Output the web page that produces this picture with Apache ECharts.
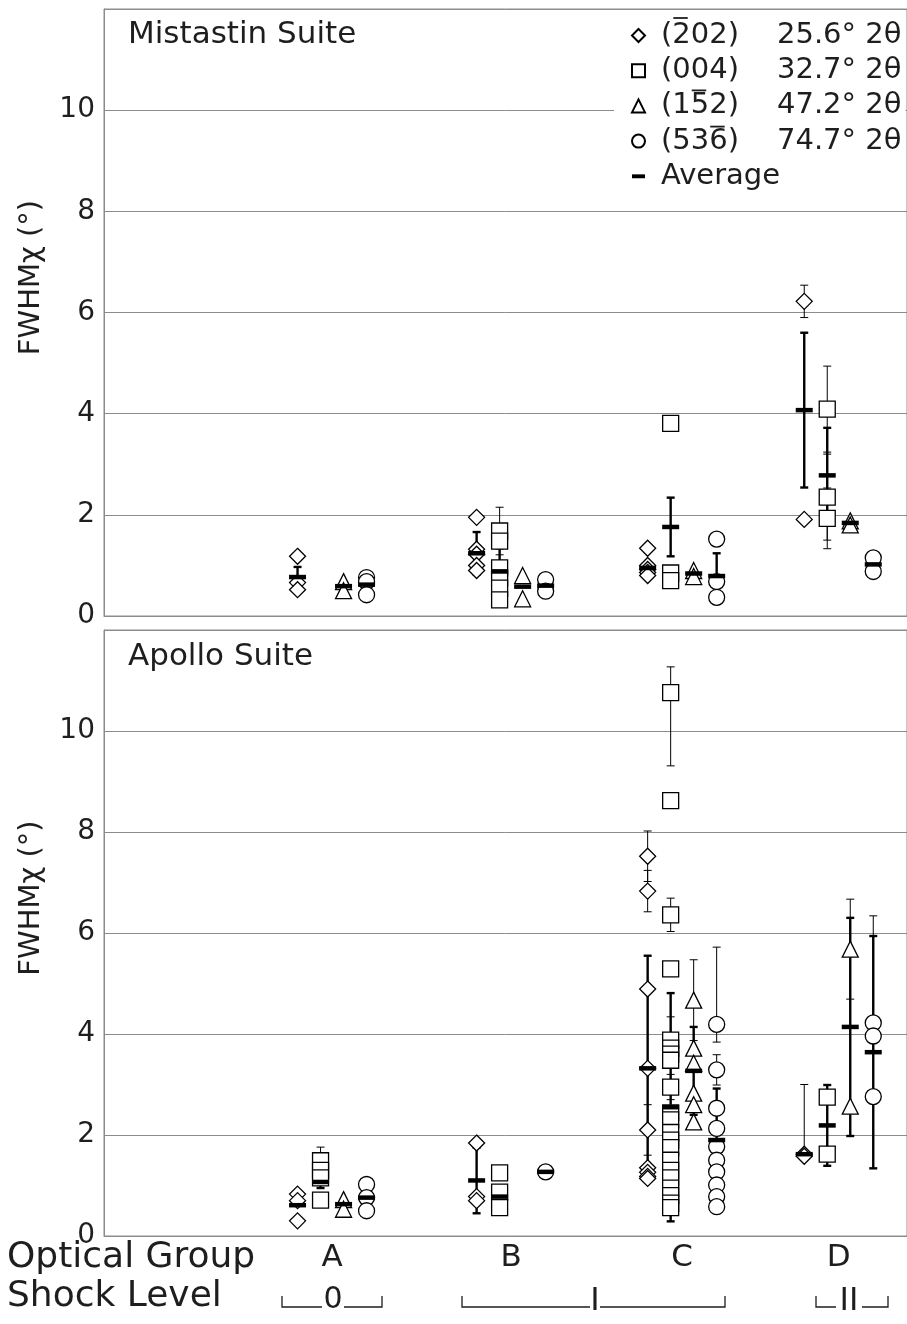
<!DOCTYPE html>
<html>
<head>
<meta charset="utf-8">
<script src="https://cdn.jsdelivr.net/npm/echarts@6/dist/echarts.min.js"></script>
<style>
html, body { margin: 0; padding: 0; background: #fff; }
#chart { width: 907px; height: 1324px; }
</style>
</head>
<body>
<div id="chart"></div>
<script>
// optical groups, and where each sits on the hidden x value axis
const groups = ['A', 'B', 'C', 'D'];
const groupX = [2.84, 5.07, 7.2, 9.15];

// reflections (hkl), which digit carries a bar (-1 = none), and their 2-theta
const reflections = ['(202)', '(004)', '(152)', '(536)'];
const barDigit = [1, -1, 2, 3];
const twoTheta = ['25.6° 2θ', '32.7° 2θ', '47.2° 2θ', '74.7° 2θ'];

// points: [group, FWHM, err down, err up]
// Mistastin suite
const mis202 = [[0,1.18],[0,0.66],[0,0.52],[1,1.95],[1,1.32],[1,1.22],[1,1.0],[1,0.9],
  [2,1.34],[2,1.0],[2,0.92],[2,0.86],[2,0.8],[3,6.22,0.32,0.32],[3,1.91]];
const mis004 = [[1,1.68,0.47,0.47],[1,1.48],[1,0.95],[1,0.75],[1,0.55],[1,0.32],
  [2,3.81],[2,0.85],[2,0.7],[3,4.09,0.85,0.85],[3,2.35,0.85,0.85],[3,1.93,0.6,0.6]];
const mis152 = [[0,0.68],[0,0.5],[1,0.8],[1,0.34],[2,0.9],[2,0.78],[3,1.88],[3,1.8]];
const mis536 = [[0,0.76],[0,0.68],[0,0.42],[1,0.72],[1,0.49],[2,1.52],[2,0.68],[2,0.37],[3,1.15],[3,0.88]];
// averages: [group, mean, err]
const misAvg202 = [[0,0.77,0.2],[1,1.24,0.42],[2,0.95,0],[3,4.07,1.53]];
const misAvg004 = [[1,0.88,0.46],[2,1.76,0.58],[3,2.78,0.94]];
const misAvg152 = [[0,0.59,0],[1,0.58,0],[2,0.84,0],[3,1.84,0]];
const misAvg536 = [[0,0.62,0],[1,0.6,0],[2,0.79,0.45],[3,1.02,0]];

// Apollo suite
const apo202 = [[0,0.83],[0,0.7],[0,0.3],[1,1.84],[1,0.78],[1,0.7],
  [2,7.52,0.5,0.5],[2,6.83,0.41,0.41],[2,4.89],[2,3.32],[2,2.1,0.5,0.5],[2,1.35],[2,1.26],[2,1.18],[2,1.14],
  [3,1.62,0,1.38],[3,1.58]];
const apo004 = [[0,1.49,0.27,0.27],[0,1.3],[0,1.15],[0,0.71],[1,1.25],[1,0.87],[1,0.56],
  [2,10.76,1.45,0.51],[2,8.62],[2,6.36,0.33,0.33],[2,5.29],[2,3.88,0.46,0.46],[2,3.72],[2,3.6],[2,3.48],
  [2,2.95,0.25,0.25],[2,2.44],[2,2.3],[2,2.05],[2,1.9],[2,1.75],[2,1.5],[2,1.3],[2,1.15],[2,0.95],
  [2,0.8],[2,0.65],[2,0.56],[3,2.75],[3,1.62]];
const apo152 = [[0,0.72],[0,0.53],[2,4.67,0.8,0.8],[2,3.72],[2,3.42],[2,2.83],[2,2.6],[2,2.26],
  [3,5.68,0.99,0.99],[3,2.57]];
const apo536 = [[0,1.02],[0,0.76],[0,0.5],[1,1.27],[2,4.19,0.35,1.53],[2,3.29,0.3,0.3],[2,2.53],[2,2.13],
  [2,1.77],[2,1.5],[2,1.27],[2,1.01],[2,0.78],[2,0.58],[3,4.22,0,2.12],[3,3.96],[3,2.76]];
const apoAvg202 = [[0,0.61,0],[1,1.1,0.65],[2,3.32,2.23],[3,1.62,0]];
const apoAvg004 = [[0,1.07,0.12],[1,0.78,0],[2,2.55,2.26],[3,2.19,0.8]];
const apoAvg152 = [[0,0.63,0],[2,3.27,0.87],[3,4.14,2.16]];
const apoAvg536 = [[0,0.76,0],[1,1.27,0],[2,1.9,1.02],[3,3.64,2.3]];

const panels = [
  { title: 'Mistastin Suite', points: [mis202, mis004, mis152, mis536], avgs: [misAvg202, misAvg004, misAvg152, misAvg536] },
  { title: 'Apollo Suite', points: [apo202, apo004, apo152, apo536], avgs: [apoAvg202, apoAvg004, apoAvg152, apoAvg536] }
];

const FONT = '"DejaVu Sans", sans-serif';
const INK = '#1e1e1e';
const GRID_COLOR = '#8c8c8c';
const symbols = ['diamond', 'rect', 'triangle', 'circle'];
const slotWidth = 0.2865;   // spacing of the four reflections inside a group

// legend geometry
const LEG_LEFT = 614, LEG_PAD_LEFT = 17, LEG_ICON = 13, LEG_TEXT_PAD = 11;
const LEG_FONT = 29, LEG_ROW = 36.2, LEG_FIRST_BAR_Y = 18;

function xOf(g, k) {
  return groupX[g] + (k - 1.5) * slotWidth;
}

function errorRenderer(width) {
  return function (params, api) {
    const x = api.value(0);
    const lo = api.coord([x, api.value(1)]);
    const hi = api.coord([x, api.value(2)]);
    const cap = 4;
    const style = { stroke: '#000', lineWidth: width };
    return {
      type: 'group',
      children: [
        { type: 'line', shape: { x1: lo[0], y1: lo[1], x2: hi[0], y2: hi[1] }, style: style },
        { type: 'line', shape: { x1: lo[0] - cap, y1: lo[1], x2: lo[0] + cap, y2: lo[1] }, style: style },
        { type: 'line', shape: { x1: hi[0] - cap, y1: hi[1], x2: hi[0] + cap, y2: hi[1] }, style: style }
      ]
    };
  };
}

const grids = [], xAxes = [], yAxes = [], series = [];
panels.forEach(function (p, i) {
  grids.push({
    left: 104, right: -2, top: i === 0 ? 9 : 630, height: i === 0 ? 607 : 606,
    show: true, borderColor: GRID_COLOR, borderWidth: 1
  });
  xAxes.push({
    gridIndex: i, type: 'value', min: 0, max: 10,
    axisLine: { show: true, lineStyle: { color: GRID_COLOR } },
    axisTick: { show: false }, splitLine: { show: false },
    axisLabel: i === 0 ? { show: false } : {
      customValues: groupX, margin: 6,
      fontFamily: FONT, fontSize: 31, color: INK,
      formatter: function (v) { return groups[groupX.indexOf(v)]; }
    }
  });
  yAxes.push({
    gridIndex: i, type: 'value', min: 0, max: 12, interval: 2,
    axisLine: { show: true, lineStyle: { color: GRID_COLOR } },
    axisTick: { show: false },
    splitLine: { lineStyle: { color: GRID_COLOR, width: 1 } },
    axisLabel: {
      fontFamily: FONT, fontSize: 28, color: INK, margin: 9,
      formatter: function (v) { return v === 12 ? '' : v; }
    },
    name: 'FWHMχ (°)', nameLocation: 'middle', nameRotate: 90, nameGap: 58,
    nameTextStyle: { fontFamily: FONT, fontSize: 29, color: INK, padding: [0, 0, 0, 70] }
  });

  const thin = [], thick = [], avgPts = [];
  p.points.forEach(function (rows, k) {
    rows.forEach(function (r) {
      if (r[2] || r[3]) thin.push([xOf(r[0], k), r[1] - (r[2] || 0), r[1] + (r[3] || 0)]);
    });
    series.push({
      name: reflections[k], type: 'scatter', xAxisIndex: i, yAxisIndex: i, z: 3,
      symbol: symbols[k], symbolSize: 16,
      itemStyle: { color: '#fff', borderColor: '#000', borderWidth: 1.3, opacity: 1 },
      emphasis: { disabled: true },
      data: rows.map(function (r) { return [xOf(r[0], k), r[1]]; })
    });
  });
  p.avgs.forEach(function (rows, k) {
    rows.forEach(function (r) {
      avgPts.push([xOf(r[0], k), r[1]]);
      if (r[2]) thick.push([xOf(r[0], k), r[1] - r[2], r[1] + r[2]]);
    });
  });
  series.push({
    type: 'custom', xAxisIndex: i, yAxisIndex: i, z: 2, silent: true,
    renderItem: errorRenderer(1), encode: { x: 0, y: [1, 2] }, data: thin
  });
  series.push({
    type: 'custom', xAxisIndex: i, yAxisIndex: i, z: 2, silent: true,
    renderItem: errorRenderer(2.4), encode: { x: 0, y: [1, 2] }, data: thick
  });
  series.push({
    name: 'Average', type: 'scatter', xAxisIndex: i, yAxisIndex: i, z: 4,
    symbol: 'rect', symbolSize: [17, 4.5], itemStyle: { color: '#000', opacity: 1 },
    emphasis: { disabled: true }, data: avgPts
  });
});

// bars over the negative Miller indices in the legend
const measure = document.createElement('canvas').getContext('2d');
measure.font = LEG_FONT + 'px ' + FONT;
const legTextX = LEG_LEFT + LEG_PAD_LEFT + LEG_ICON + 5 + LEG_TEXT_PAD;
const bars = [];
reflections.forEach(function (r, k) {
  if (barDigit[k] < 0) return;
  const x0 = legTextX + measure.measureText(r.slice(0, barDigit[k])).width;
  const w = measure.measureText(r[barDigit[k]]).width;
  const y = LEG_FIRST_BAR_Y + k * LEG_ROW;
  bars.push({
    type: 'line', z: 20,
    shape: { x1: x0 + 2, y1: y, x2: x0 + w - 2, y2: y },
    style: { stroke: INK, lineWidth: 1.8 }
  });
});

const chart = echarts.init(document.getElementById('chart'));
chart.setOption({
  animation: false,
  backgroundColor: '#fff',
  grid: grids, xAxis: xAxes, yAxis: yAxes, series: series,
  legend: {
    orient: 'vertical', left: LEG_LEFT, top: 10, z: 10,
    backgroundColor: '#fff', padding: [11, 4, 8, LEG_PAD_LEFT],
    itemWidth: LEG_ICON, itemHeight: LEG_ICON, itemGap: 6.2, selectedMode: false,
    data: reflections.map(function (n) { return { name: n }; })
      .concat([{ name: 'Average', icon: 'path://M0 0H12V3.6H0Z' }]),
    formatter: function (name) {
      const k = reflections.indexOf(name);
      return k >= 0 ? '{h|' + name + '}{t|' + twoTheta[k] + '}' : '{h|' + name + '}';
    },
    textStyle: {
      fontFamily: FONT, fontSize: LEG_FONT, color: INK,
      rich: {
        h: { fontFamily: FONT, fontSize: LEG_FONT, color: INK, width: 116, padding: [0, 0, 0, LEG_TEXT_PAD], lineHeight: 30 },
        t: { fontFamily: FONT, fontSize: LEG_FONT, color: INK, lineHeight: 30 }
      }
    }
  },
  graphic: bars.concat([
    { type: 'text', left: 128, top: 19, style: { text: panels[0].title, font: '31px ' + FONT, fill: INK } },
    { type: 'text', left: 128, top: 641, style: { text: panels[1].title, font: '31px ' + FONT, fill: INK } },
    { type: 'text', left: 7, top: 1240, style: { text: 'Optical Group', font: '36px ' + FONT, fill: INK } },
    { type: 'text', left: 7, top: 1279, style: { text: 'Shock Level', font: '36px ' + FONT, fill: INK } },
    // shock level brackets
    { type: 'polyline', shape: { points: [[282, 1296], [282, 1307], [322, 1307]] }, style: { stroke: INK, lineWidth: 1.3, fill: null } },
    { type: 'polyline', shape: { points: [[344, 1307], [382, 1307], [382, 1296]] }, style: { stroke: INK, lineWidth: 1.3, fill: null } },
    { type: 'text', x: 333, y: 1300, style: { text: '0', font: '30px ' + FONT, fill: INK, align: 'center', verticalAlign: 'middle' } },
    { type: 'polyline', shape: { points: [[462, 1296], [462, 1307], [590, 1307]] }, style: { stroke: INK, lineWidth: 1.3, fill: null } },
    { type: 'polyline', shape: { points: [[600, 1307], [725, 1307], [725, 1296]] }, style: { stroke: INK, lineWidth: 1.3, fill: null } },
    { type: 'text', x: 595, y: 1302, style: { text: 'I', font: '32px ' + FONT, fill: INK, align: 'center', verticalAlign: 'middle' } },
    { type: 'polyline', shape: { points: [[816, 1296], [816, 1307], [836, 1307]] }, style: { stroke: INK, lineWidth: 1.3, fill: null } },
    { type: 'polyline', shape: { points: [[862, 1307], [888, 1307], [888, 1296]] }, style: { stroke: INK, lineWidth: 1.3, fill: null } },
    { type: 'text', x: 849, y: 1302, style: { text: 'II', font: '32px ' + FONT, fill: INK, align: 'center', verticalAlign: 'middle' } }
  ])
});
</script>
</body>
</html>
